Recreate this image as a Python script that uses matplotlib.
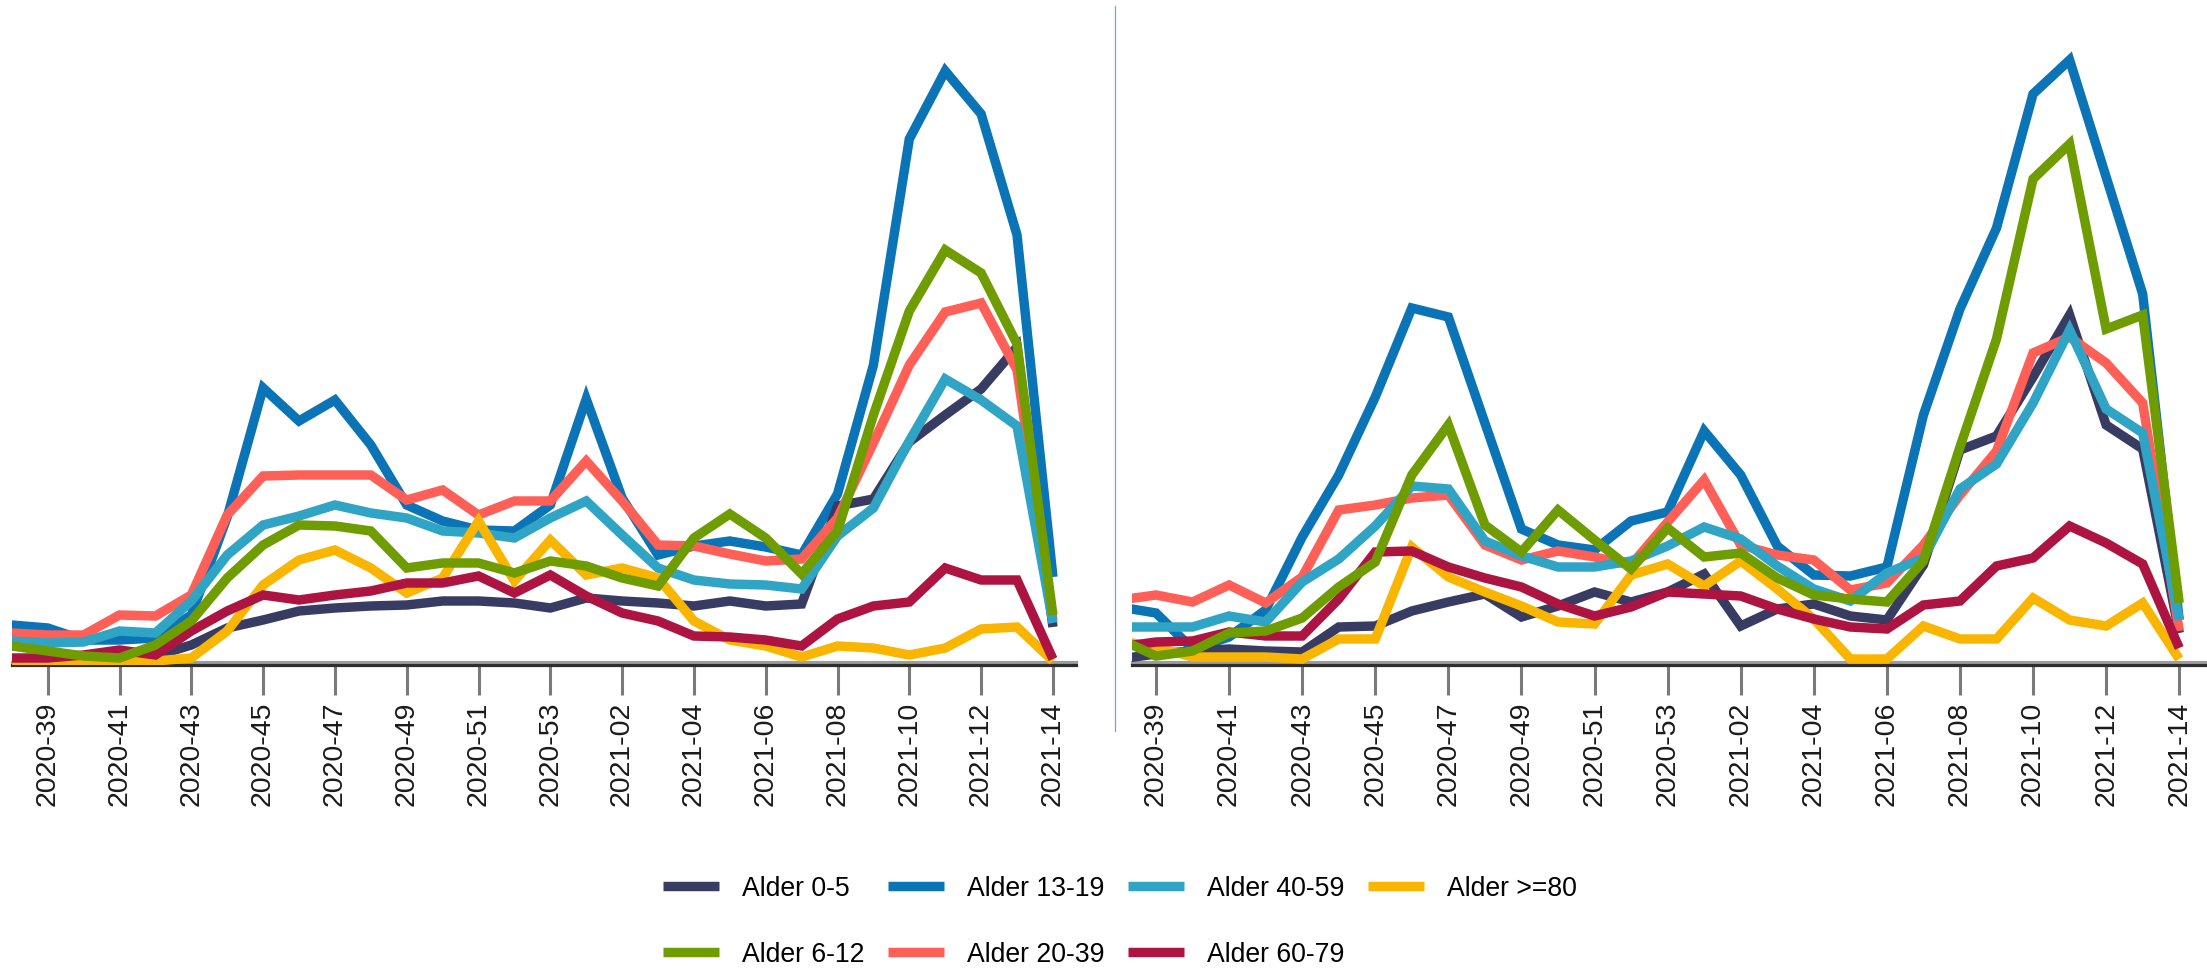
import matplotlib
matplotlib.use("Agg")
import matplotlib.pyplot as plt
import matplotlib.transforms as mtransforms
from matplotlib import font_manager
from matplotlib.lines import Line2D

# uker (2020-38 .. 2021-14)
weeks = ["2020-38", "2020-39", "2020-40", "2020-41", "2020-42", "2020-43",
         "2020-44", "2020-45", "2020-46", "2020-47", "2020-48", "2020-49",
         "2020-50", "2020-51", "2020-52", "2020-53", "2021-01", "2021-02",
         "2021-03", "2021-04", "2021-05", "2021-06", "2021-07", "2021-08",
         "2021-09", "2021-10", "2021-11", "2021-12", "2021-13", "2021-14"]

groups = ["Alder 0-5", "Alder 6-12", "Alder 13-19", "Alder 20-39",
          "Alder 40-59", "Alder 60-79", "Alder >=80"]
colors = ["#393c62", "#6f9c00", "#0a74b6", "#fe5f57",
          "#2fa4c5", "#ad1442", "#f9b500"]

# venstre panel
left_0_5 = [4, 3, 3, 4, 9, 20, 37, 45, 54, 57, 59, 60, 64, 64, 62, 57, 67, 64, 62, 59, 64, 59, 61, 159, 166, 223, 250, 276, 318, 38]
left_6_12 = [19, 14, 9, 7, 20, 44, 87, 120, 140, 139, 134, 97, 102, 102, 92, 104, 99, 87, 79, 127, 151, 127, 91, 134, 250, 354, 415, 392, 321, 50]
left_13_19 = [40, 37, 25, 25, 27, 50, 148, 277, 244, 265, 220, 160, 144, 135, 134, 160, 266, 167, 110, 119, 124, 118, 110, 171, 300, 526, 594, 551, 430, 88]
left_20_39 = [32, 30, 30, 50, 49, 70, 150, 189, 190, 190, 190, 165, 175, 150, 164, 164, 204, 164, 120, 119, 111, 104, 106, 147, 222, 300, 353, 362, 295, 45]
left_40_59 = [24, 22, 23, 34, 32, 64, 110, 140, 149, 160, 152, 147, 134, 132, 127, 147, 164, 130, 97, 85, 81, 80, 76, 129, 157, 224, 286, 265, 239, 42]
left_60_79 = [7, 7, 10, 15, 10, 34, 54, 70, 65, 70, 74, 82, 82, 89, 72, 90, 69, 52, 44, 29, 28, 25, 19, 46, 59, 63, 97, 85, 85, 6]
left_80 = [3, 2, 2, 3, 4, 7, 34, 80, 105, 115, 97, 72, 87, 144, 84, 125, 90, 97, 87, 44, 25, 19, 8, 19, 17, 10, 17, 36, 38, 4]

# høyre panel
right_0_5 = [6, 11, 14, 16, 14, 13, 38, 39, 54, 63, 71, 48, 59, 73, 63, 73, 91, 39, 56, 61, 49, 45, 100, 215, 229, 288, 350, 240, 216, 32]
right_6_12 = [26, 9, 14, 32, 34, 47, 78, 103, 190, 240, 140, 113, 155, 125, 96, 137, 108, 112, 87, 70, 66, 63, 104, 218, 326, 486, 521, 336, 350, 62]
right_13_19 = [58, 52, 16, 28, 55, 128, 190, 268, 357, 348, 242, 136, 120, 115, 144, 153, 234, 190, 119, 90, 89, 98, 250, 356, 437, 571, 605, 488, 371, 45]
right_20_39 = [65, 70, 63, 80, 62, 88, 155, 160, 167, 170, 120, 105, 114, 108, 100, 143, 185, 120, 110, 105, 75, 82, 120, 170, 214, 312, 328, 302, 262, 34]
right_40_59 = [38, 38, 38, 49, 43, 83, 106, 139, 179, 176, 124, 109, 98, 98, 104, 119, 138, 126, 99, 76, 64, 92, 107, 176, 201, 262, 335, 256, 232, 45]
right_60_79 = [18, 23, 24, 33, 29, 29, 66, 113, 114, 98, 87, 78, 61, 49, 58, 73, 71, 69, 56, 46, 38, 36, 60, 64, 99, 107, 139, 122, 101, 17]
right_80 = [24, 18, 8, 8, 8, 6, 26, 26, 118, 88, 73, 59, 43, 41, 90, 101, 79, 104, 76, 46, 6, 6, 39, 26, 26, 67, 45, 39, 62, 6]

left_series = [left_0_5, left_6_12, left_13_19, left_20_39, left_40_59, left_60_79, left_80]
right_series = [right_0_5, right_6_12, right_13_19, right_20_39, right_40_59, right_60_79, right_80]

# tegnerekkefølge (lavest først)
zorders = [2.1, 2.7, 2.0, 2.2, 2.3, 2.5, 2.4]

names = {f.name for f in font_manager.fontManager.ttflist}
if "Liberation Sans Narrow" in names:
    tick_font, tick_size = "Liberation Sans Narrow", 24.5
else:
    tick_font, tick_size = "Liberation Sans", 20.5
text_font = "Liberation Sans" if "Liberation Sans" in names else "DejaVu Sans"

W, H = 2207, 970
fig = plt.figure(figsize=(W / 100, H / 100), dpi=100)

base_y = 666
panels = [
    (11.8, 1075.9, (0, 29.64), left_series),
    (1132, 2207, (0.343, 29.76), right_series),
]

x = list(range(len(weeks)))
tick_pos = x[1::2]
tick_lab = weeks[1::2]

axes = []
for x0, x1, xlim, series in panels:
    ax = fig.add_axes([x0 / W, (H - base_y) / H, (x1 - x0) / W, base_y / H])
    for vals, col, z, lab in zip(series, colors, zorders, groups):
        ax.plot(x, vals, color=col, lw=6.8, zorder=z, label=lab,
                solid_joinstyle="miter", solid_capstyle="butt")
    ax.set_xlim(*xlim)
    ax.set_ylim(0, base_y)
    for s in ["left", "top", "right"]:
        ax.spines[s].set_visible(False)
    ax.spines["bottom"].set_color("#2e2e2e")
    ax.spines["bottom"].set_linewidth(2.3)
    ax.spines["bottom"].set_zorder(1.9)
    # grå linje over aksen
    off = mtransforms.offset_copy(ax.get_xaxis_transform(), fig=fig, x=0, y=3, units="dots")
    ax.plot([xlim[0], xlim[1]], [0, 0], transform=off, color="#9c9c9c", lw=2.3,
            zorder=1.8, clip_on=False)
    ax.set_yticks([])
    ax.set_xticks(tick_pos)
    ax.set_xticklabels(tick_lab, rotation=90, fontfamily=tick_font,
                       fontsize=tick_size, color="#1a1a1a")
    ax.tick_params(axis="x", length=21.5, width=2.2, color="#7a7a7a", pad=4)
    ax.patch.set_visible(False)
    axes.append(ax)

# skillelinje mellom panelene
fig.add_artist(Line2D([1114.5 / W, 1114.5 / W], [1 - 7 / H, 1 - 732 / H],
                      color="#6fa6dc", lw=0.9))

handles, labels = axes[0].get_legend_handles_labels()
fig.legend(handles, labels, loc="center", bbox_to_anchor=(1120 / W, 1 - 922 / H),
           ncol=4, frameon=False, prop={"family": text_font, "size": 19.2},
           handlelength=2.1, handletextpad=0.85, columnspacing=0.9,
           labelspacing=1.5, borderpad=0)

fig.savefig("out.png", dpi=100)
